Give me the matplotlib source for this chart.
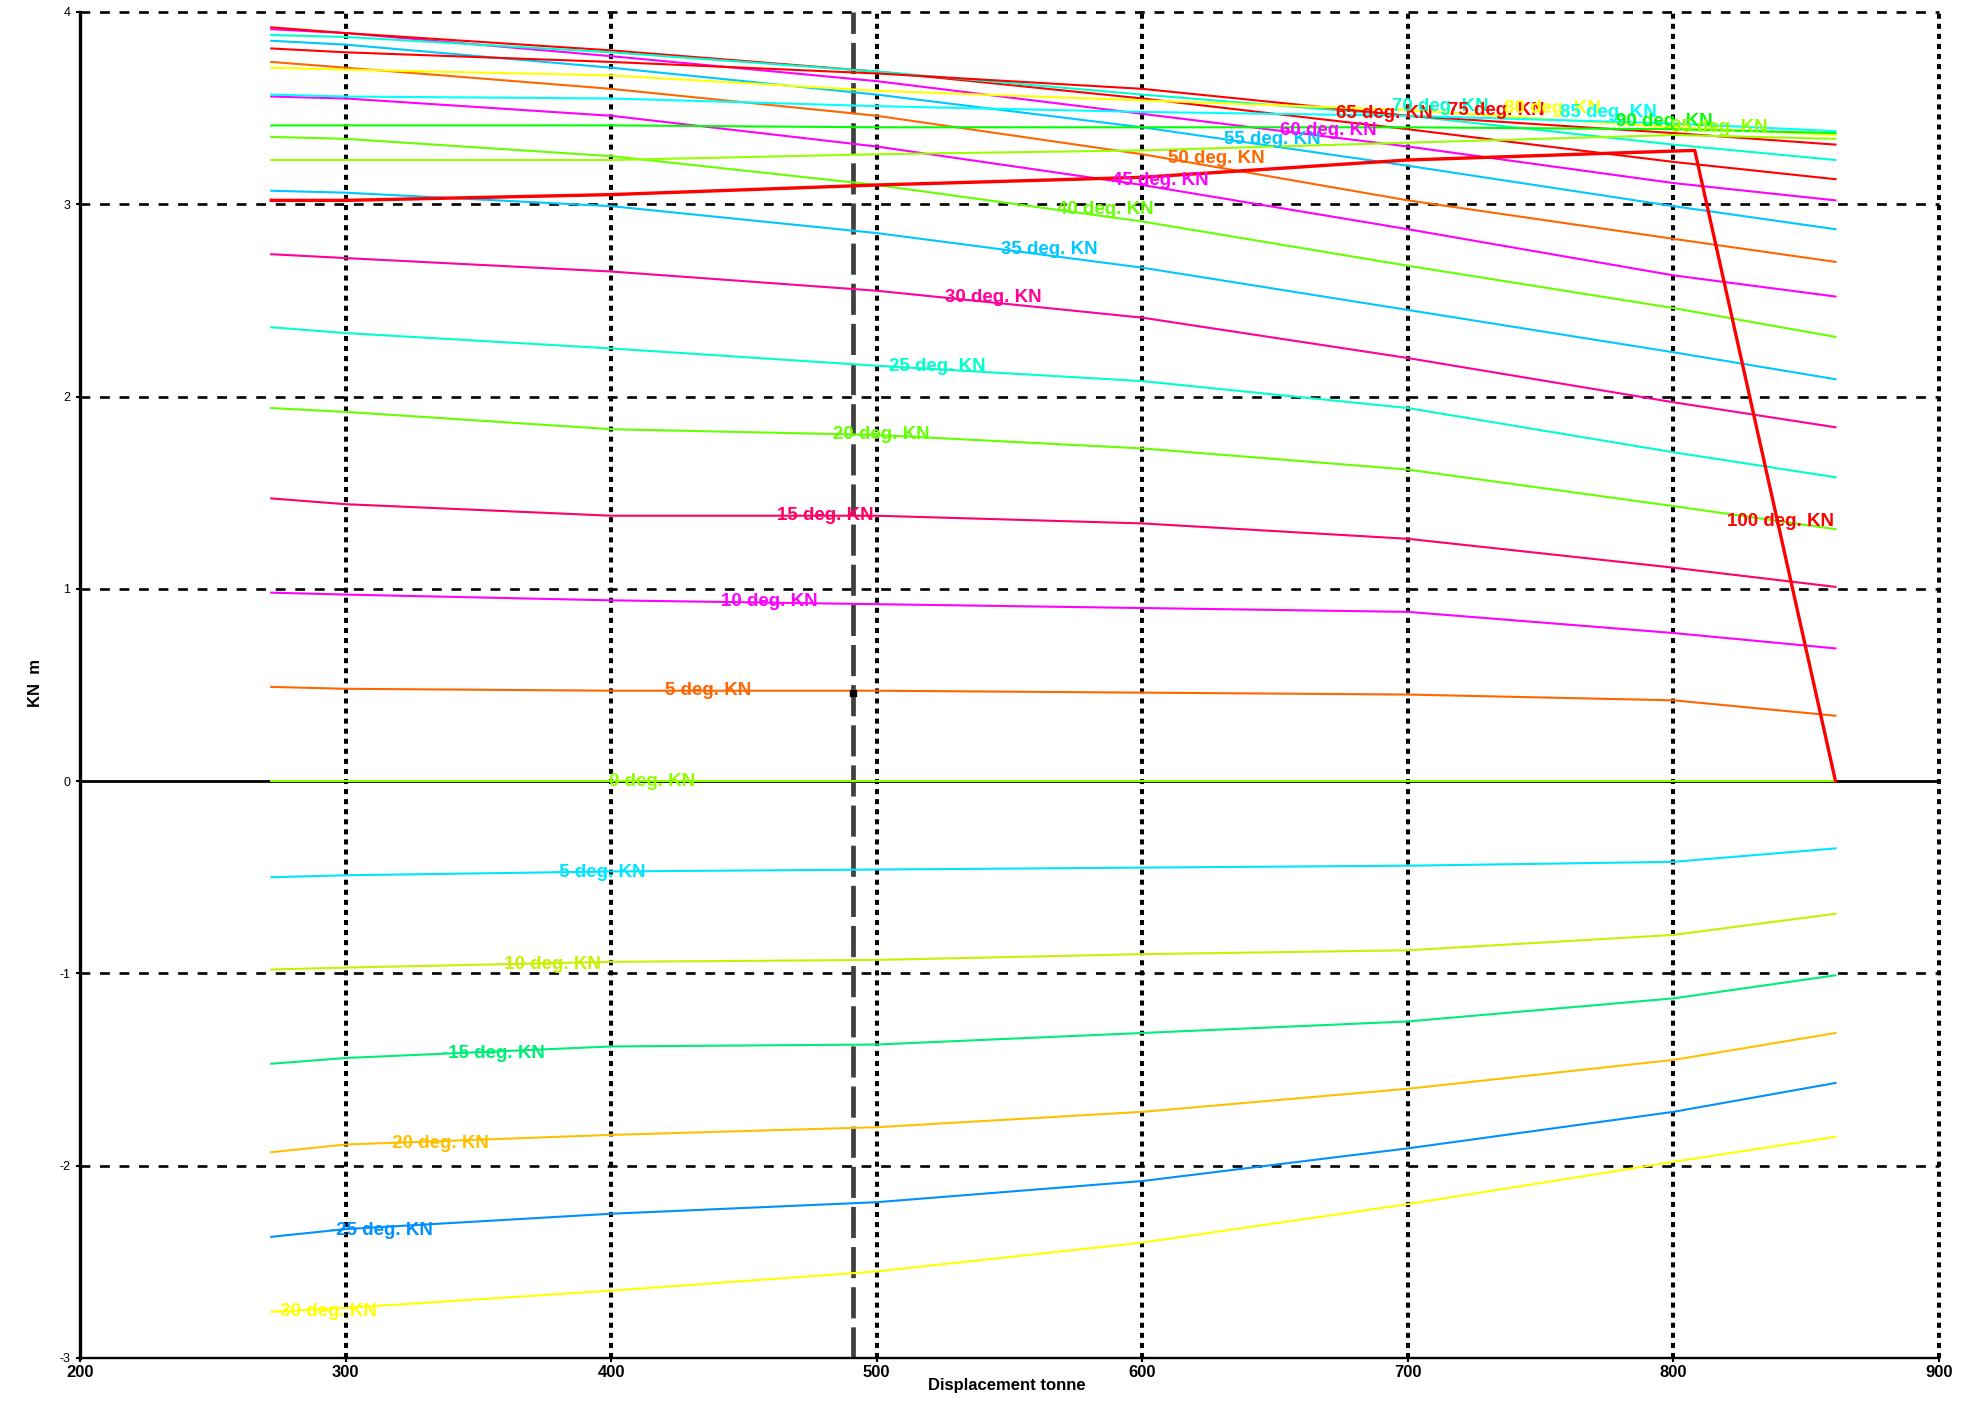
import matplotlib
matplotlib.use("Agg")
import matplotlib.pyplot as plt
import numpy as np

plt.rcParams['font.family'] = ['Liberation Sans', 'DejaVu Sans']
plt.rcParams['axes.unicode_minus'] = False

# displacement stations where the curves were read (tonne)
disp = [272, 300, 400, 500, 600, 700, 800, 861]

# heel angles (deg) and KN values (m) at the stations above
angles = [-30, -25, -20, -15, -10, -5, 0, 5, 10, 15, 20, 25, 30,
          35, 40, 45, 50, 55, 60, 65, 70, 75, 80, 85, 90, 95]
kn = [
    [-2.76, -2.74, -2.65, -2.55, -2.40, -2.20, -1.98, -1.85],
    [-2.37, -2.33, -2.25, -2.19, -2.08, -1.91, -1.72, -1.57],
    [-1.93, -1.89, -1.84, -1.80, -1.72, -1.60, -1.45, -1.31],
    [-1.47, -1.44, -1.38, -1.37, -1.31, -1.25, -1.13, -1.01],
    [-0.98, -0.97, -0.94, -0.93, -0.90, -0.88, -0.80, -0.69],
    [-0.50, -0.49, -0.47, -0.46, -0.45, -0.44, -0.42, -0.35],
    [0.00, 0.00, 0.00, 0.00, 0.00, 0.00, 0.00, 0.00],
    [0.49, 0.48, 0.47, 0.47, 0.46, 0.45, 0.42, 0.34],
    [0.98, 0.97, 0.94, 0.92, 0.90, 0.88, 0.77, 0.69],
    [1.47, 1.44, 1.38, 1.38, 1.34, 1.26, 1.11, 1.01],
    [1.94, 1.92, 1.83, 1.80, 1.73, 1.62, 1.43, 1.31],
    [2.36, 2.33, 2.25, 2.16, 2.08, 1.94, 1.71, 1.58],
    [2.74, 2.72, 2.65, 2.55, 2.41, 2.20, 1.97, 1.84],
    [3.07, 3.06, 2.99, 2.85, 2.67, 2.45, 2.23, 2.09],
    [3.35, 3.34, 3.25, 3.10, 2.91, 2.68, 2.46, 2.31],
    [3.56, 3.55, 3.46, 3.30, 3.10, 2.87, 2.63, 2.52],
    [3.74, 3.71, 3.60, 3.46, 3.26, 3.02, 2.82, 2.70],
    [3.85, 3.83, 3.71, 3.57, 3.40, 3.20, 2.99, 2.87],
    [3.91, 3.89, 3.77, 3.64, 3.47, 3.30, 3.11, 3.02],
    [3.92, 3.89, 3.80, 3.69, 3.55, 3.39, 3.22, 3.13],
    [3.88, 3.87, 3.79, 3.69, 3.57, 3.46, 3.31, 3.23],
    [3.81, 3.79, 3.74, 3.68, 3.60, 3.46, 3.37, 3.31],
    [3.71, 3.70, 3.67, 3.59, 3.54, 3.49, 3.40, 3.36],
    [3.57, 3.56, 3.55, 3.51, 3.48, 3.46, 3.42, 3.38],
    [3.41, 3.41, 3.41, 3.40, 3.40, 3.40, 3.39, 3.37],
    [3.23, 3.23, 3.23, 3.26, 3.28, 3.32, 3.36, 3.34],
]
colors = ['#FFFF00', '#0090FF', '#FFC000', '#00EE77', '#C8F000', '#00E5FF',
          '#8FFF00', '#FF6600', '#FF00FF', '#FF0066', '#66FF00', '#00FFCC',
          '#FF0099', '#00C8FF', '#66FF00', '#FF00FF', '#FF6600', '#00C8FF',
          '#FF00FF', '#FF0000', '#00FFCC', '#FF0000', '#FFFF00', '#00FFFF',
          '#00FF00', '#99FF00']

# 100 deg curve (drops to zero at the end)
disp_100 = [272, 300, 400, 500, 600, 700, 808, 861]
kn_100 = [3.02, 3.02, 3.05, 3.10, 3.14, 3.23, 3.28, 0.00]
label_100 = (820, 1.35)

design_disp = 491
marker_kn = 0.46

xticks = [200, 300, 400, 500, 600, 700, 800, 900]
yticks = [-3, -2, -1, 0, 1, 2, 3, 4]

fig = plt.figure(figsize=(19.71, 14.04), dpi=100)
ax = fig.add_axes([0.0406, 0.0328, 0.9432, 0.9587])
ax.set_xlim(200, 900)
ax.set_ylim(-3, 4)

# grid
for y in yticks:
    if y in (-3, 0):
        continue
    ax.axhline(y, color='black', lw=1.9, dashes=(3.7, 3.7), zorder=1, clip_on=False)
for x in xticks[1:]:
    ax.axvline(x, color='black', lw=2.9, dashes=(1.25, 1.25), zorder=1, clip_on=False)
ax.axhline(0, color='black', lw=2.0, zorder=1)
ax.axvline(design_disp, color='#404040', lw=3.4, dashes=(6.6, 1.9), zorder=1.5)

# curves + labels
for i, (a, vals, c) in enumerate(zip(angles, kn, colors)):
    ax.plot(disp, vals, color=c, lw=1.5, zorder=2)
    xl = 273 + i * 21.05
    yl = np.interp(xl, disp, vals)
    if a >= 65:
        yl += 0.04
    ax.text(xl, yl, f"{a} deg. KN", color=c, fontsize=13.5, fontweight='bold',
            ha='left', va='center', zorder=4)

ax.plot(disp_100, kn_100, color='#FF0000', lw=2.4, zorder=2.5)
ax.text(label_100[0], label_100[1], "100 deg. KN", color='#FF0000', fontsize=13.5,
        fontweight='bold', ha='left', va='center', zorder=4)

ax.scatter([design_disp], [marker_kn], marker='s', s=14, color='black', zorder=5)

# axes styling
for s in ('top', 'right'):
    ax.spines[s].set_visible(False)
ax.spines['left'].set_linewidth(2.4)
ax.spines['bottom'].set_linewidth(1.7)
ax.set_xticks(xticks)
ax.set_yticks(yticks)
ax.tick_params(axis='x', direction='out', length=3, width=1.5, pad=2,
               labelsize=12)
ax.tick_params(axis='y', direction='out', length=3, width=1.5, pad=4,
               labelsize=9)
for lab in ax.get_xticklabels():
    lab.set_fontweight('bold')

fig.text(0.511, 0.008, "Displacement tonne", fontsize=12, fontweight='bold',
         ha='center', va='bottom')
fig.text(0.0178, 0.5135, "KN  m", fontsize=12, fontweight='bold',
         rotation=90, ha='center', va='center')

fig.savefig("out.png", dpi=100, facecolor='white')
